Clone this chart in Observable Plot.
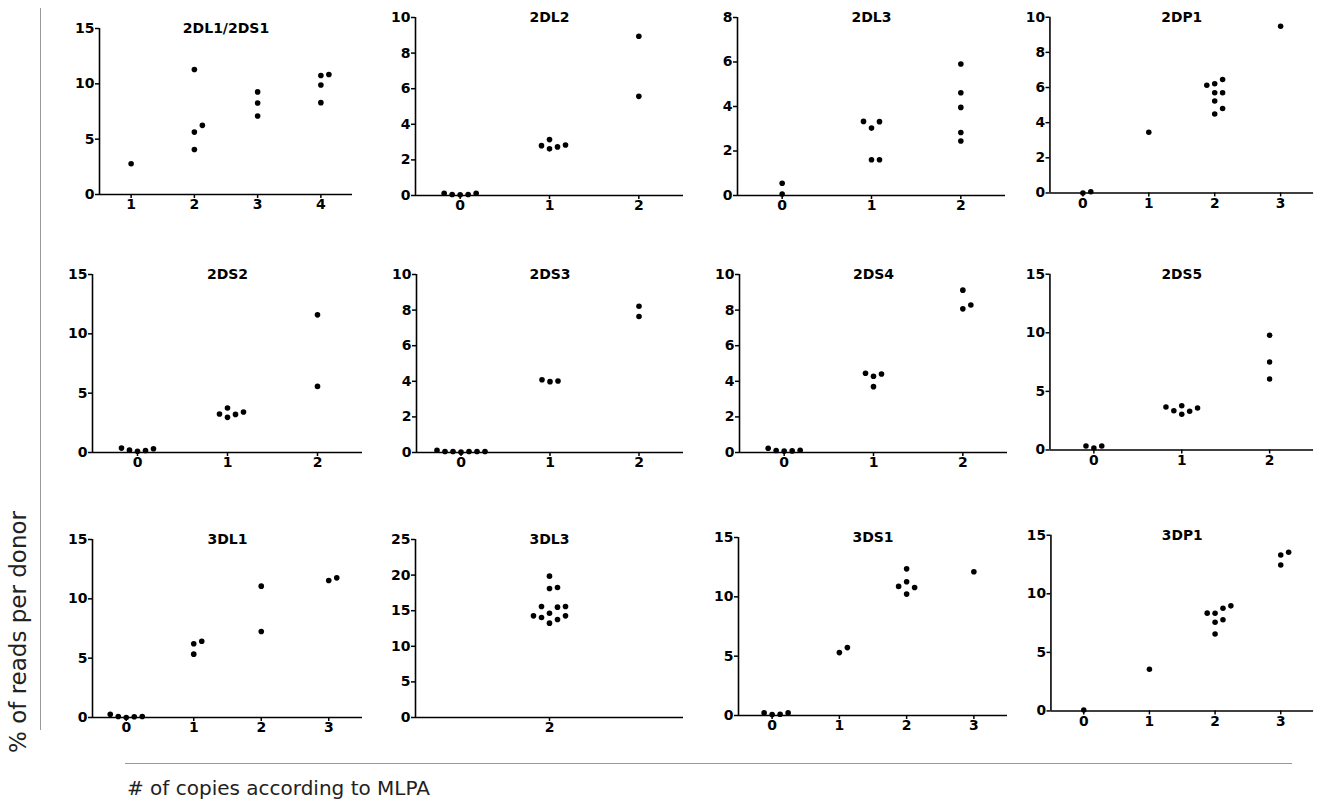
<!DOCTYPE html>
<html><head><meta charset="utf-8">
<script src="https://cdn.jsdelivr.net/npm/d3@7"></script>
<script src="https://cdn.jsdelivr.net/npm/@observablehq/plot@0.6"></script>
<style>
body{margin:0;background:#fff;}
#fig{position:relative;width:1319px;height:801px;overflow:hidden;font-family:"DejaVu Sans",sans-serif;background:#fff;}
.panel{position:absolute;}
.panel svg{overflow:visible;}
#ylab{position:absolute;left:18px;top:632px;transform:translate(-50%,-50%) rotate(-90deg);white-space:nowrap;font-size:23px;color:#222;}
#xlab{position:absolute;left:127px;top:776px;white-space:nowrap;font-size:20px;color:#222;}
.sep{position:absolute;background:#999;}
</style></head><body><div id="fig"></div>
<script>
// ---- data ----
const panelNames = ["2DL1/2DS1","2DL2","2DL3","2DP1","2DS2","2DS3","2DS4","2DS5","3DL1","3DL3","3DS1","3DP1"];

const copies_2DL1 = [1,2,2,2,2,3,3,3,4,4,4,4];
const reads_2DL1  = [2.78,11.29,6.25,5.64,4.07,9.27,8.27,7.09,10.75,10.84,9.90,8.30];

const copies_2DL2 = [0,0,0,0,0,1,1,1,1,1,2,2];
const reads_2DL2  = [0.13,0.06,0.04,0.06,0.13,2.80,3.14,2.62,2.73,2.84,8.95,5.57];

const copies_2DL3 = [0,0,1,1,1,1,1,2,2,2,2,2];
const reads_2DL3  = [0.55,0.07,3.32,3.03,3.33,1.61,1.61,5.91,4.62,3.96,2.83,2.45];

const copies_2DP1 = [0,0,1,2,2,2,2,2,2,2,2,3];
const reads_2DP1  = [0.0,0.07,3.46,6.45,6.13,6.21,5.70,5.70,5.23,4.80,4.49,9.48];

const copies_2DS2 = [0,0,0,0,0,1,1,1,1,1,2,2];
const reads_2DS2  = [0.37,0.20,0.11,0.17,0.31,3.24,3.75,2.96,3.21,3.41,11.60,5.57];

const copies_2DS3 = [0,0,0,0,0,0,0,1,1,1,2,2];
const reads_2DS3  = [0.13,0.06,0.06,0.02,0.06,0.06,0.06,4.09,3.98,4.02,8.22,7.64];

const copies_2DS4 = [0,0,0,0,0,1,1,1,1,2,2,2];
const reads_2DS4  = [0.24,0.13,0.08,0.09,0.11,4.41,4.28,4.45,3.70,9.12,8.07,8.29];

const copies_2DS5 = [0,0,0,1,1,1,1,1,1,2,2,2];
const reads_2DS5  = [0.34,0.17,0.34,3.66,3.30,3.77,3.04,3.35,3.58,9.79,7.51,6.05];

const copies_3DL1 = [0,0,0,0,0,1,1,1,2,2,3,3];
const reads_3DL1  = [0.28,0.08,0.0,0.06,0.08,6.43,6.21,5.34,11.07,7.25,11.55,11.77];

const copies_3DL3 = [2,2,2,2,2,2,2,2,2,2,2,2];
const reads_3DL3  = [19.85,18.12,18.26,15.59,15.50,15.59,14.65,14.28,14.04,13.76,14.28,13.25];

const copies_3DS1 = [0,0,0,0,1,1,2,2,2,2,2,3];
const reads_3DS1  = [0.22,0.08,0.11,0.22,5.30,5.72,12.36,10.88,11.27,10.79,10.23,12.11];

const copies_3DP1 = [0,1,2,2,2,2,2,2,2,3,3,3];
const reads_3DP1  = [0.08,3.56,8.77,7.79,8.33,7.57,6.56,8.35,8.97,13.54,13.32,12.45];

// tick labels
const xTicks = [[1,2,3,4],[0,1,2],[0,1,2],[0,1,2,3],[0,1,2],[0,1,2],[0,1,2],[0,1,2],[0,1,2,3],[2],[0,1,2,3],[0,1,2,3]];
const yMax   = [15,10,8,10,15,10,10,15,15,25,15,15];
const yStep  = [5,2,2,2,5,2,2,5,5,5,5,5];

const copiesList = [copies_2DL1,copies_2DL2,copies_2DL3,copies_2DP1,copies_2DS2,copies_2DS3,copies_2DS4,copies_2DS5,copies_3DL1,copies_3DL3,copies_3DS1,copies_3DP1];
const readsList  = [reads_2DL1,reads_2DL2,reads_2DL3,reads_2DP1,reads_2DS2,reads_2DS3,reads_2DS4,reads_2DS5,reads_3DL1,reads_3DL3,reads_3DS1,reads_3DP1];

// ---- layout (page pixels of each plot frame) ----
const frames = [
  {x0:99,  x1:352,  y0:28,  y1:194},
  {x0:415, x1:683,  y0:17,  y1:195},
  {x0:737, x1:1005, y0:17,  y1:195},
  {x0:1050,x1:1317, y0:17,  y1:195},
  {x0:92,  x1:362,  y0:274, y1:452},
  {x0:416, x1:683,  y0:274, y1:452},
  {x0:739, x1:1007, y0:274, y1:452},
  {x0:1050,x1:1317, y0:274, y1:452},
  {x0:92,  x1:362,  y0:539, y1:717},
  {x0:415, x1:683,  y0:539, y1:717},
  {x0:738, x1:1007, y0:537, y1:715},
  {x0:1051,x1:1317, y0:535, y1:713}
];

const fig = document.getElementById("fig");
const FONT = "DejaVu Sans, sans-serif";

function xDomainFor(ticks) {
  if (ticks.length === 1) return [ticks[0]-0.5, ticks[0]+0.5];
  return [ticks[0]-0.5, ticks[ticks.length-1]+0.5];
}

function drawPanel(i) {
  const f = frames[i];
  const mL = 44, mR = 6, mT = 22, mB = 30;
  const plotW = f.x1 - f.x0, plotH = f.y1 - f.y0;
  const W = plotW + mL + mR, H = plotH + mT + mB;
  const xd = xDomainFor(xTicks[i]);
  const pxX = plotW / (xd[1]-xd[0]);
  const pxY = plotH / yMax[i];
  const SLOT = 8, GAP = 8;
  // scatter-dot (beeswarm-like) arrangement of points in each column
  const pts = copiesList[i].map((c,k) => ({c, v: readsList[i][k]}));
  for (const [, g] of d3.group(pts, d => d.c)) {
    const sorted = g.slice().sort((a,b) => a.v - b.v);
    const placed = [];
    for (const p of sorted) {
      for (const s of [0,1,-1,2,-2,3,-3,4,-4,5,-5]) {
        if (!placed.some(q => q.s === s && Math.abs(q.v - p.v)*pxY < GAP)) { p.s = s; break; }
      }
      placed.push(p);
    }
  }
  pts.forEach(p => p.x = p.c + p.s*SLOT/pxX);

  const yt = d3.range(0, yMax[i] + 1e-9, yStep[i]);
  const svg = Plot.plot({
    width: W, height: H,
    marginLeft: mL, marginRight: mR, marginTop: mT, marginBottom: mB,
    x: {domain: xd, label: null},
    y: {domain: [0, yMax[i]], label: null},
    style: {fontFamily: FONT, fontSize: "14px", fontWeight: "bold", color: "#000", background: "transparent", overflow: "visible"},
    marks: [
      Plot.axisX(xTicks[i], {tickSize: 4, tickPadding: 1, strokeWidth: 1.5, fontSize: 14, fontWeight: "bold", label: null, tickFormat: d => String(d)}),
      Plot.axisY(yt, {tickSize: 4, tickPadding: 1, strokeWidth: 1.5, fontSize: 14, fontWeight: "bold", label: null, tickFormat: d => String(d)}),
      Plot.ruleY([0], {x1: xd[0], x2: xd[1], stroke: "#000", strokeWidth: 1.6}),
      Plot.ruleX([xd[0]], {y1: 0, y2: yMax[i], stroke: "#000", strokeWidth: 1.6}),
      Plot.dot(pts, {x: "x", y: "v", r: 2.8, fill: "#000", stroke: null}),
      Plot.text([panelNames[i]], {frameAnchor: "top", lineAnchor: "middle", fontSize: 14, fontWeight: "bold", fill: "#000"})
    ]
  });
  const div = document.createElement("div");
  div.className = "panel";
  div.style.left = (f.x0 - mL) + "px";
  div.style.top = (f.y0 - mT) + "px";
  div.appendChild(svg);
  fig.appendChild(div);
}

for (let i = 0; i < panelNames.length; i++) drawPanel(i);

// separators and shared axis titles
const vline = document.createElement("div");
vline.className = "sep";
Object.assign(vline.style, {left: "40px", top: "8px", width: "1px", height: "722px"});
fig.appendChild(vline);
const hline = document.createElement("div");
hline.className = "sep";
Object.assign(hline.style, {left: "125px", top: "763px", width: "1167px", height: "1px"});
fig.appendChild(hline);

const ylab = document.createElement("div");
ylab.id = "ylab";
ylab.textContent = "% of reads per donor";
fig.appendChild(ylab);
const xlab = document.createElement("div");
xlab.id = "xlab";
xlab.textContent = "# of copies according to MLPA";
fig.appendChild(xlab);
</script>
</body></html>
